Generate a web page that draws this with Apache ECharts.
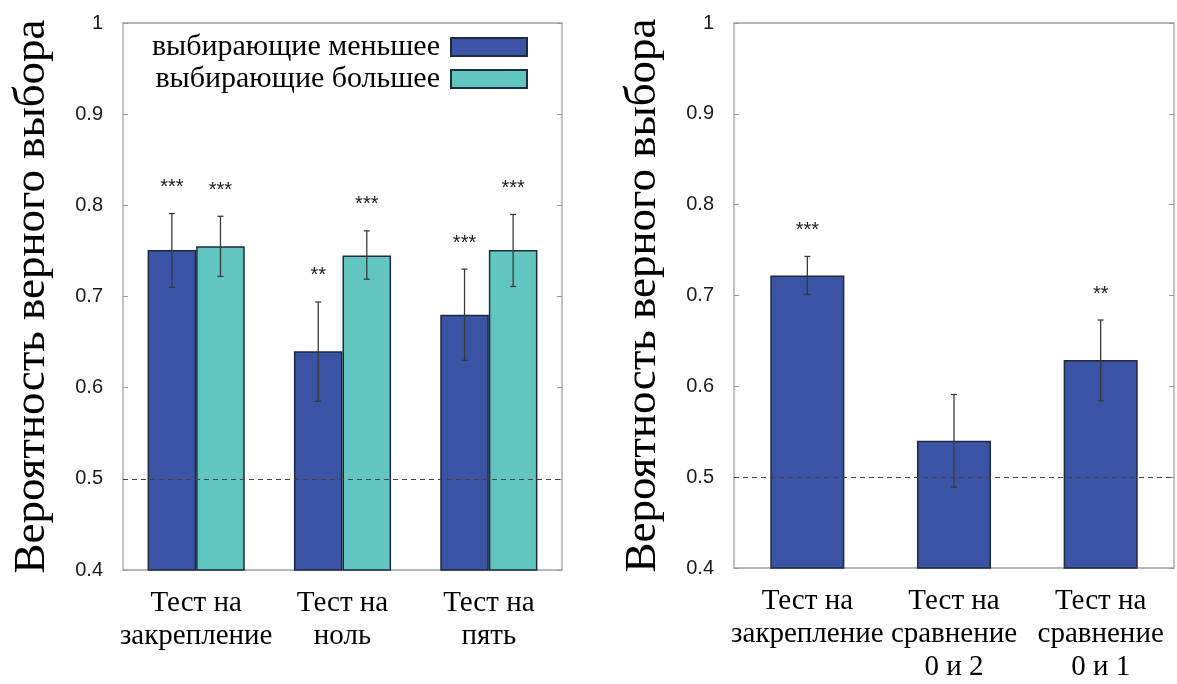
<!DOCTYPE html>
<html><head><meta charset="utf-8">
<script src="https://cdn.jsdelivr.net/npm/echarts@6/dist/echarts.min.js"></script>
<style>html,body{margin:0;padding:0;background:#fff}#c{width:1177px;height:684px}</style>
</head><body><div id="c"></div>
<script>
// ---- data ----
const leftCategories = ['Тест на\nзакрепление', 'Тест на\nноль', 'Тест на\nпять'];
const lessMean = [0.751, 0.640, 0.680];
const lessLow  = [0.710, 0.585, 0.630];
const lessHigh = [0.791, 0.694, 0.730];
const lessSig  = ['***', '**', '***'];
const moreMean = [0.755, 0.745, 0.751];
const moreLow  = [0.722, 0.719, 0.711];
const moreHigh = [0.788, 0.772, 0.790];
const moreSig  = ['***', '***', '***'];
const rightCategories = ['Тест на\nзакрепление', 'Тест на\nсравнение\n0 и 2', 'Тест на\nсравнение\n0 и 1'];
const rightMean = [0.722, 0.540, 0.629];
const rightLow  = [0.701, 0.489, 0.584];
const rightHigh = [0.743, 0.591, 0.673];
const rightSig  = ['***', '', '**'];
const yTicks = { min: 0.4, max: 1, interval: 0.1 };
const legendNames = ['выбирающие меньшее', 'выбирающие большее'];
const chanceLevel = 0.5;

const DARK = '#3a53a4', TEAL = '#62c6c0', EDGE = '#1d2a40';
const SERIF = 'Liberation Serif', SANS = 'Liberation Sans';

function errSeries(axisIdx, low, high, sig, offsetFrac) {
  return {
    type: 'custom', xAxisIndex: axisIdx, yAxisIndex: axisIdx * 2,
    data: low.map((l, i) => [i, l, high[i]]),
    encode: { x: 0, y: [1, 2] },
    z: 10, silent: true,
    renderItem: (params, api) => {
      const i = api.value(0);
      const band = api.size([1, 0])[0];
      const pL = api.coord([i, api.value(1)]);
      const pH = api.coord([i, api.value(2)]);
      const x = pL[0] + band * offsetFrac;
      const c = 3;
      const st = { stroke: '#3a3a3a', lineWidth: 1.3 };
      const ch = [
        { type: 'line', shape: { x1: x, y1: pL[1], x2: x, y2: pH[1] }, style: st },
        { type: 'line', shape: { x1: x - c, y1: pL[1], x2: x + c, y2: pL[1] }, style: st },
        { type: 'line', shape: { x1: x - c, y1: pH[1], x2: x + c, y2: pH[1] }, style: st }
      ];
      const s = sig[params.dataIndex];
      if (s) ch.push({ type: 'text', style: { text: s, x: x, y: pH[1] - 26, align: 'center', verticalAlign: 'middle', fontFamily: SANS, fontSize: 20, fill: '#222' } });
      return { type: 'group', children: ch };
    }
  };
}

function yAx(gi) {
  return [{
    type: 'value', gridIndex: gi, ...yTicks, position: 'left',
    name: 'Вероятность верного выбора', nameLocation: 'middle', nameGap: 68, nameRotate: 90,
    nameTextStyle: { fontFamily: SERIF, fontSize: 45, color: '#000' },
    axisLine: { show: false }, splitLine: { show: false },
    axisTick: { show: true, inside: true, length: 5, lineStyle: { color: '#999' } },
    axisLabel: { fontFamily: SANS, fontSize: 20, color: '#1a1a1a', margin: 20 }
  }, {
    type: 'value', gridIndex: gi, ...yTicks, position: 'right',
    axisLine: { show: false }, splitLine: { show: false },
    axisTick: { show: true, inside: true, length: 5, lineStyle: { color: '#999' } },
    axisLabel: { show: false }
  }];
}
function xAx(gi, cats) {
  return {
    type: 'category', gridIndex: gi, data: cats,
    axisLine: { show: false }, axisTick: { show: false },
    axisLabel: { fontFamily: SERIF, fontSize: 29, color: '#000', lineHeight: 33, margin: 17, interval: 0 }
  };
}
const dashLine = {
  silent: true, symbol: 'none', label: { show: false },
  lineStyle: { type: [5, 4], color: '#444', width: 1 },
  data: [{ yAxis: chanceLevel }]
};

const option = {
  animation: false,
  grid: [
    { left: 123, top: 23, width: 439, height: 547, show: true, borderColor: '#a0a0a0', borderWidth: 1.3 },
    { left: 734, top: 23, width: 440, height: 546, show: true, borderColor: '#a0a0a0', borderWidth: 1.3 }
  ],
  xAxis: [xAx(0, leftCategories), xAx(1, rightCategories)],
  yAxis: [...yAx(0), ...yAx(1)],
  legend: {
    data: legendNames, orient: 'vertical', align: 'right', icon: 'rect',
    right: 649, top: 32, padding: 0, itemWidth: 76, itemHeight: 18, itemGap: 2,
    textStyle: { fontFamily: SERIF, fontSize: 30, lineHeight: 30, color: '#000', padding: [0, 6, 0, 0] },
    selectedMode: false
  },
  series: [
    { name: legendNames[0], type: 'bar', xAxisIndex: 0, yAxisIndex: 0, data: lessMean,
      barWidth: '33.2%', barGap: '0%',
      itemStyle: { color: DARK, borderColor: EDGE, borderWidth: 1.5 }, markLine: dashLine },
    { name: legendNames[1], type: 'bar', xAxisIndex: 0, yAxisIndex: 0, data: moreMean,
      barWidth: '33.2%', barGap: '0%',
      itemStyle: { color: TEAL, borderColor: EDGE, borderWidth: 1.5 } },
    { name: 'right', type: 'bar', xAxisIndex: 1, yAxisIndex: 2, data: rightMean,
      barWidth: '50.5%',
      itemStyle: { color: DARK, borderColor: EDGE, borderWidth: 1.5 }, markLine: dashLine },
    errSeries(0, lessLow, lessHigh, lessSig, -0.166),
    errSeries(0, moreLow, moreHigh, moreSig, 0.166),
    errSeries(1, rightLow, rightHigh, rightSig, 0)
  ]
};
const chart = echarts.init(document.getElementById('c'), null, { renderer: 'canvas' });
chart.setOption(option);
</script></body></html>
